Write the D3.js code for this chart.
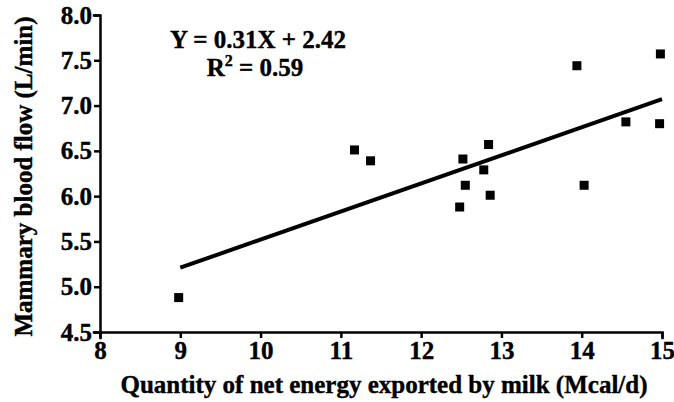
<!DOCTYPE html>
<html>
<head>
<meta charset="utf-8">
<script src="https://cdn.jsdelivr.net/npm/d3@7"></script>
<style>
  body { margin: 0; background: #fff; }
  svg text { font-family: "Liberation Serif", "Times New Roman", serif; font-weight: bold; fill: #000; stroke: #000; stroke-width: 0.4; }
  .axis path, .axis line { stroke: #000; stroke-width: 2.5; }
</style>
</head>
<body>
<div id="chart"></div>
<script>
var svgWidth = 674
var svgHeight = 402

var margin = {
  top: 15,
  right: 12,
  bottom: 70,
  left: 100
};

var width = svgWidth - margin.left - margin.right;
var height = svgHeight - margin.top - margin.bottom;

// energy exported by milk (Mcal/d) vs mammary blood flow (L/min)
var energy = [8.98, 11.17, 11.37, 12.52, 12.84, 12.78, 12.55, 12.86, 12.48, 13.94, 14.03, 14.55, 14.97, 14.98];
var bloodFlow = [4.88, 6.51, 6.39, 6.41, 6.57, 6.29, 6.12, 6.01, 5.88, 7.44, 6.12, 6.82, 6.80, 7.57];

var xTicks = [8, 9, 10, 11, 12, 13, 14, 15];
var yTicks = [4.5, 5.0, 5.5, 6.0, 6.5, 7.0, 7.5, 8.0];

var slope = 0.31;
var intercept = 2.42;
var fitRange = [9, 15];

var svg = d3.select("#chart")
  .append("svg")
  .attr("width", svgWidth)
  .attr("height", svgHeight);

var chartGroup = svg.append("g")
  .attr("transform", `translate(${margin.left}, ${margin.top})`);

var xScale = d3.scaleLinear()
  .domain([8, 15])
  .range([0, width]);

var yScale = d3.scaleLinear()
  .domain([4.5, 8.0])
  .range([height, 0]);

var bottomAxis = d3.axisBottom(xScale)
  .tickValues(xTicks)
  .tickFormat(d3.format("d"))
  .tickSizeOuter(0)
  .tickSize(6)
  .tickPadding(3);

var leftAxis = d3.axisLeft(yScale)
  .tickValues(yTicks)
  .tickFormat(d3.format(".1f"))
  .tickSizeOuter(0)
  .tickSize(6)
  .tickPadding(2);

chartGroup.append("g")
  .attr("class", "axis")
  .attr("transform", `translate(0, ${height})`)
  .call(bottomAxis)
  .selectAll("text")
  .attr("font-size", "25px");

chartGroup.append("g")
  .attr("class", "axis")
  .call(leftAxis)
  .selectAll("text")
  .attr("font-size", "25px");

chartGroup.selectAll(".axis .domain").attr("stroke-linecap", "square");

// regression line
chartGroup.append("line")
  .attr("x1", xScale(fitRange[0]))
  .attr("y1", yScale(slope * fitRange[0] + intercept))
  .attr("x2", xScale(fitRange[1]))
  .attr("y2", yScale(slope * fitRange[1] + intercept))
  .attr("stroke", "#000")
  .attr("stroke-width", 4);

var size = 9;
chartGroup.selectAll("rect.pt")
  .data(energy)
  .enter()
  .append("rect")
  .attr("class", "pt")
  .attr("x", (d, i) => xScale(d) - size / 2)
  .attr("y", (d, i) => yScale(bloodFlow[i]) - size / 2)
  .attr("width", size)
  .attr("height", size)
  .attr("fill", "#000");

// equation
var eq = chartGroup.append("g")
  .attr("text-anchor", "middle")
  .attr("font-size", "25px");

eq.append("text")
  .attr("x", 158)
  .attr("y", 33)
  .text("Y = 0.31X + 2.42");

var r2 = eq.append("text")
  .attr("x", 155)
  .attr("y", 61);
r2.append("tspan").text("R");
r2.append("tspan").attr("font-size", "16px").attr("dy", "-10").text("2");
r2.append("tspan").attr("dy", "10").text(" = 0.59");

chartGroup.append("text")
  .attr("transform", `translate(${width / 2 + 3}, ${height + 61})`)
  .attr("text-anchor", "middle")
  .attr("font-size", "25px")
  .text("Quantity of net energy exported by milk (Mcal/d)");

chartGroup.append("text")
  .attr("transform", "rotate(-90)")
  .attr("x", -height / 2 - 3)
  .attr("y", -margin.left + 32)
  .attr("text-anchor", "middle")
  .attr("font-size", "25px")
  .text("Mammary blood flow (L/min)");
</script>
</body>
</html>
